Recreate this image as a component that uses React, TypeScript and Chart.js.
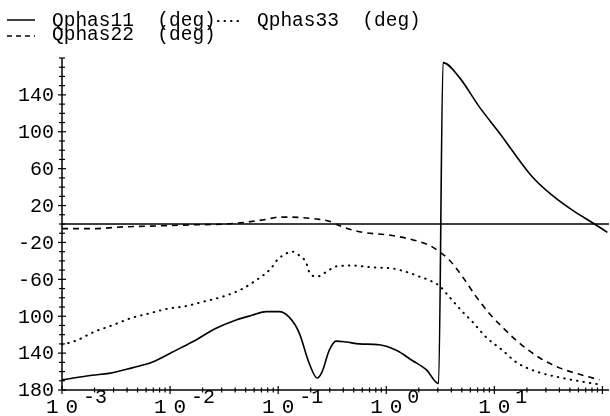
import React, { useEffect, useRef } from "react";
import { Chart, registerables } from "chart.js";

Chart.register(...registerables);

// ---- data ----
const q11X = [0.001, 0.0019, 0.00272, 0.00445, 0.00681, 0.01044, 0.016, 0.02667, 0.04085, 0.0574, 0.0774, 0.1021, 0.1264, 0.1565, 0.1936, 0.2296, 0.2553, 0.2965, 0.3443, 0.4266, 0.5623, 0.861, 1.238, 1.741, 2.345, 3.05, 3.35, 4.74, 7.26, 11.1, 22.5, 34.4, 52.7, 84.4, 111];
const q11Y = [-169, -164, -162, -156, -150, -139, -128, -113, -104, -99, -95, -95, -101, -118, -151, -167, -160, -137, -127, -128, -130, -131, -137, -148, -158, -173, 175, 159, 127, 99, 51, 31, 15, 0, -9];

const q22X = [0.001, 0.0019, 0.00392, 0.00791, 0.015, 0.033, 0.0506, 0.0774, 0.1021, 0.1349, 0.1816, 0.2399, 0.2965, 0.3917, 0.6, 1.066, 1.741, 2.5, 3.1, 3.83, 5.06, 6.81, 8.99, 11.9, 17.0, 26.1, 40.0, 57.4, 75.8, 93.8];
const q22Y = [-5, -5, -3, -2, -1, 0, 2, 5, 7.5, 7.5, 6.5, 5, 3, -3, -9, -12, -17, -23, -30, -39, -57, -79, -97, -112, -129, -145, -156, -162, -166, -169];

const q33X = [0.001, 0.00138, 0.00198, 0.0029, 0.00436, 0.0064, 0.00938, 0.01406, 0.02065, 0.0303, 0.0454, 0.0625, 0.0861, 0.0979, 0.1186, 0.1349, 0.1565, 0.1816, 0.1936, 0.2296, 0.278, 0.3443, 0.484, 0.741, 1.11, 1.633, 2.02, 2.5, 3.1, 3.83, 5.06, 6.26, 8.43, 11.9, 16.0, 24.5, 42.7, 65.3, 93.8];
const q33Y = [-131, -126, -117, -110, -102, -97, -92, -89, -84, -79, -71, -61, -48, -39, -32, -30, -34, -42, -52, -57, -52, -46, -45, -47, -48, -53, -57, -61, -67, -79, -95, -106, -123, -137, -150, -160, -167, -171, -174];

const seriesNames = ["Qphas11  (deg)", "Qphas22  (deg)", "Qphas33  (deg)"];

const yTickValues = [140, 100, 60, 20, -20, -60, -100, -140, -180];
const yTickLabels = ["140", "100", "60", "20", "-20", "-60", "100", "140", "180"];
const xDecades = [0.001, 0.01, 0.1, 1, 10];
const xDecadeExponents = ["-3", "-2", "-1", "0", "1"];

const X_MIN = 0.001;
const X_MAX = 115;
const Y_MIN = -180;
const Y_MAX = 180;

const FONT = "'Liberation Mono', 'DejaVu Sans Mono', monospace";

const axesPlugin = {
  id: "mmaAxes",
  beforeDatasetsDraw(chart: any) {
    const ctx = chart.ctx as CanvasRenderingContext2D;
    const { left, right, top, bottom } = chart.chartArea;
    const xs = chart.scales.x;
    const ys = chart.scales.y;
    ctx.save();
    ctx.strokeStyle = "#000";
    ctx.lineWidth = 1.5;
    const y0 = ys.getPixelForValue(0);
    ctx.beginPath();
    ctx.moveTo(left, y0);
    ctx.lineTo(right, y0);
    ctx.stroke();
    ctx.beginPath();
    ctx.moveTo(left, top);
    ctx.lineTo(left, bottom);
    ctx.stroke();
    ctx.beginPath();
    ctx.moveTo(left, bottom);
    ctx.lineTo(right, bottom);
    ctx.stroke();
    ctx.lineWidth = 1.2;
    for (let v = Y_MIN; v <= Y_MAX; v += 10) {
      const py = ys.getPixelForValue(v);
      const len = yTickValues.includes(v) ? 4 : 3;
      ctx.beginPath();
      ctx.moveTo(left - len, py);
      ctx.lineTo(left + len, py);
      ctx.stroke();
    }
    for (let d = 0.001; d < X_MAX * 1.0001; d *= 10) {
      for (let m = 1; m <= 9; m++) {
        const v = d * m;
        if (v < X_MIN * 0.999 || v > X_MAX) continue;
        const px = xs.getPixelForValue(v);
        const len = m === 1 ? 4 : 2.5;
        ctx.beginPath();
        ctx.moveTo(px, bottom - len);
        ctx.lineTo(px, bottom + len);
        ctx.stroke();
      }
    }
    ctx.restore();
  },
  afterDraw(chart: any) {
    const ctx = chart.ctx as CanvasRenderingContext2D;
    const { left, bottom } = chart.chartArea;
    const xs = chart.scales.x;
    const ys = chart.scales.y;
    ctx.save();
    ctx.fillStyle = "#000";
    ctx.font = `20px ${FONT}`;
    ctx.textAlign = "right";
    ctx.textBaseline = "middle";
    yTickValues.forEach((v, i) => {
      ctx.fillText(yTickLabels[i], left - 8, ys.getPixelForValue(v) + 1);
    });
    xDecades.forEach((v, i) => {
      const px = xs.getPixelForValue(v);
      ctx.font = `21px ${FONT}`;
      ctx.textAlign = "left";
      ctx.textBaseline = "middle";
      (ctx as any).letterSpacing = "0px";
      const adv = ctx.measureText("1").width;
      const sp = 7;
      (ctx as any).letterSpacing = sp + "px";
      const w = adv * 2 + sp;
      ctx.fillText("10", px - w / 2, bottom + 17);
      (ctx as any).letterSpacing = "0px";
      ctx.font = `20px ${FONT}`;
      ctx.fillText(xDecadeExponents[i], px + 21, bottom + 8);
    });
    (ctx as any).letterSpacing = "0px";
    ctx.font = `19.5px ${FONT}`;
    ctx.textAlign = "left";
    ctx.textBaseline = "middle";
    ctx.strokeStyle = "#000";
    ctx.lineWidth = 1.5;
    ctx.setLineDash([]);
    ctx.beginPath();
    ctx.moveTo(7, 20);
    ctx.lineTo(35, 20);
    ctx.stroke();
    ctx.fillText(seriesNames[0], 52, 21);
    ctx.setLineDash([5, 4]);
    ctx.beginPath();
    ctx.moveTo(7, 36);
    ctx.lineTo(35, 36);
    ctx.stroke();
    ctx.fillText(seriesNames[1], 52, 35);
    ctx.setLineDash([0.5, 6]);
    ctx.lineCap = "round";
    ctx.lineWidth = 2;
    ctx.beginPath();
    ctx.moveTo(218, 21);
    ctx.lineTo(244, 21);
    ctx.stroke();
    ctx.setLineDash([]);
    ctx.fillText(seriesNames[2], 257, 21);
    ctx.restore();
  },
};

export default function App() {
  const canvasRef = useRef<HTMLCanvasElement | null>(null);

  useEffect(() => {
    const canvas = canvasRef.current;
    if (!canvas) return;
    const toPoints = (xs: number[], ys: number[]) => xs.map((x, i) => ({ x, y: ys[i] }));
    const chart = new Chart(canvas, {
      type: "line",
      data: {
        datasets: [
          {
            label: seriesNames[0],
            data: toPoints(q11X, q11Y),
            borderColor: "#000",
            borderWidth: 1.6,
            pointRadius: 0,
            cubicInterpolationMode: "monotone",
            fill: false,
          },
          {
            label: seriesNames[1],
            data: toPoints(q22X, q22Y),
            borderColor: "#000",
            borderWidth: 1.6,
            borderDash: [6, 5],
            pointRadius: 0,
            cubicInterpolationMode: "monotone",
            fill: false,
          },
          {
            label: seriesNames[2],
            data: toPoints(q33X, q33Y),
            borderColor: "#000",
            borderWidth: 2,
            borderDash: [0.5, 6],
            borderCapStyle: "round",
            pointRadius: 0,
            cubicInterpolationMode: "monotone",
            fill: false,
          },
        ],
      },
      options: {
        animation: false,
        responsive: false,
        maintainAspectRatio: false,
        layout: { padding: { left: 62, right: 1, top: 58, bottom: 26 } },
        plugins: { legend: { display: false }, tooltip: { enabled: false } },
        scales: {
          x: { type: "logarithmic", min: X_MIN, max: X_MAX, display: false },
          y: { type: "linear", min: Y_MIN, max: Y_MAX, display: false },
        },
      },
      plugins: [axesPlugin],
    });
    return () => chart.destroy();
  }, []);

  return (
    <div style={{ position: "absolute", left: 0, top: 0, width: 610, height: 416, background: "#fff" }}>
      <canvas ref={canvasRef} width={610} height={416} style={{ display: "block" }} />
    </div>
  );
}
